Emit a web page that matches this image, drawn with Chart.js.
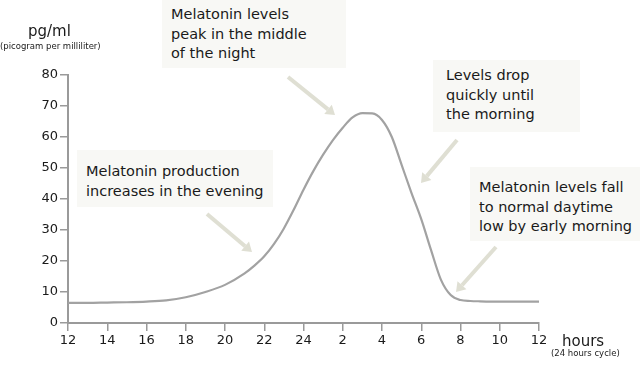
<!DOCTYPE html>
<html>
<head>
<meta charset="utf-8">
<script src="https://cdn.jsdelivr.net/npm/chart.js@4"></script>
<style>
    body { margin: 0; background: #fff; }
    #wrap { position: relative; width: 640px; height: 378px; overflow: hidden; font-family: "DejaVu Sans", Verdana, sans-serif; color: #1a1a1a; }
    #chart { position: absolute; left: 0; top: 0; }
    .note { position: absolute; background: #f8f8f5; font-size: 14.5px; line-height: 19.5px; padding: 8px 9px; box-sizing: border-box; white-space: nowrap; }
    .lbl { position: absolute; white-space: nowrap; }
</style>
</head>
<body>
<div id="wrap">
    <canvas id="chart" width="640" height="378"></canvas>

    <div class="lbl" style="left:28px; top:22px; font-size:15px;">pg/ml</div>
    <div class="lbl" style="left:0px; top:41px; font-size:8.5px;">(picogram per milliliter)</div>
    <div class="lbl" style="left:562px; top:332px; font-size:15px;">hours</div>
    <div class="lbl" style="left:551px; top:348px; font-size:8.5px;">(24 hours cycle)</div>

    <div class="note" style="left:162px; top:0px; width:184px; height:68px; padding-top:5px;">Melatonin levels<br>peak in the middle<br>of the night</div>
    <div class="note" style="left:433px; top:60px; width:147px; height:72px; padding-top:6px; padding-left:13px;">Levels drop<br>quickly until<br>the morning</div>
    <div class="note" style="left:470px; top:167px; width:170px; height:74px; padding-top:11px;">Melatonin levels fall<br>to normal daytime<br>low by early morning</div>
    <div class="note" style="left:77px; top:150px; width:196px; height:57px; padding-top:12px;">Melatonin production<br>increases in the evening</div>
</div>

<script>
    // hours counted from noon (0 = 12:00, 12 = midnight, 24 = next noon)
    const hoursFromNoon = [0, 1, 2, 3, 4, 5, 6, 7, 8, 9, 9.5, 10, 10.5, 11, 11.5, 12, 12.5, 13, 13.5, 14, 14.5, 15, 15.5, 16, 16.5, 17, 17.5, 18, 18.5, 19, 19.5, 20, 20.5, 21, 22, 23, 24];
    const melatonin = [6.5, 6.5, 6.6, 6.7, 6.9, 7.3, 8.3, 10, 12.3, 16, 18.5, 21.5, 25.5, 30.5, 36.5, 43, 49, 54.3, 59, 63, 66.3, 67.7, 67.6, 65.5, 60, 51, 42, 33.5, 23.5, 14, 9, 7.4, 7.1, 7, 6.9, 6.9, 6.9];

    // tick labels on the clock
    const hourLabels = ["12", "14", "16", "18", "20", "22", "24", "2", "4", "6", "8", "10", "12"];
    const yTicks = [0, 10, 20, 30, 40, 50, 60, 70, 80];

    // arrows pointing from the notes to the curve
    const arrows = [
        [288, 77, 335, 115],
        [457, 140, 421, 183],
        [496, 247, 456, 292],
        [207, 214, 252, 252]
    ];

    const points = [];
    for (let i = 0; i < hoursFromNoon.length; i++) {
        points.push({ x: hoursFromNoon[i], y: melatonin[i] });
    }

    const arrowPlugin = {
        id: "arrows",
        afterDraw(chart) {
            const ctx = chart.ctx;
            ctx.save();
            ctx.strokeStyle = "#dfdfd3";
            ctx.fillStyle = "#dfdfd3";
            ctx.lineWidth = 4;
            arrows.forEach(a => {
                const ang = Math.atan2(a[3] - a[1], a[2] - a[0]);
                const hx = a[2] - Math.cos(ang) * 9;
                const hy = a[3] - Math.sin(ang) * 9;
                ctx.beginPath();
                ctx.moveTo(a[0], a[1]);
                ctx.lineTo(hx, hy);
                ctx.stroke();
                ctx.beginPath();
                ctx.moveTo(a[2], a[3]);
                ctx.lineTo(hx + Math.cos(ang + Math.PI / 2) * 6, hy + Math.sin(ang + Math.PI / 2) * 6);
                ctx.lineTo(hx + Math.cos(ang - Math.PI / 2) * 6, hy + Math.sin(ang - Math.PI / 2) * 6);
                ctx.closePath();
                ctx.fill();
            });
            ctx.restore();
        }
    };

    Chart.defaults.font.family = "'DejaVu Sans', Verdana, sans-serif";

    new Chart(document.getElementById("chart"), {
        type: "line",
        data: {
            datasets: [{
                data: points,
                borderColor: "#a2a2a2",
                borderWidth: 2.2,
                pointRadius: 0,
                fill: false,
                cubicInterpolationMode: "monotone"
            }]
        },
        options: {
            responsive: false,
            animation: false,
            devicePixelRatio: 1,
            layout: { padding: { left: 0, right: 101, top: 75, bottom: 0 } },
            plugins: { legend: { display: false }, tooltip: { enabled: false } },
            scales: {
                x: {
                    type: "linear",
                    min: 0,
                    max: 24,
                    afterFit: s => { s.height = 55; },
                    afterBuildTicks: s => { s.ticks = hourLabels.map((l, i) => ({ value: i * 2 })); },
                    ticks: {
                        color: "#1a1a1a",
                        font: { size: 13 },
                        padding: 2,
                        maxRotation: 0,
                        autoSkip: false,
                        callback: (v, i) => hourLabels[i]
                    },
                    grid: { drawOnChartArea: false, color: "#9a9a9a", tickLength: 8, lineWidth: 1.5 },
                    border: { color: "#9a9a9a", width: 2 }
                },
                y: {
                    min: 0,
                    max: 80,
                    afterFit: s => { s.width = 68; },
                    afterBuildTicks: s => { s.ticks = yTicks.map(v => ({ value: v })); },
                    ticks: { color: "#1a1a1a", font: { size: 13 }, padding: 2 },
                    grid: { drawOnChartArea: false, color: "#9a9a9a", tickLength: 8, lineWidth: 1.5 },
                    border: { color: "#9a9a9a", width: 2 }
                }
            }
        },
        plugins: [arrowPlugin]
    });
</script>
</body>
</html>
